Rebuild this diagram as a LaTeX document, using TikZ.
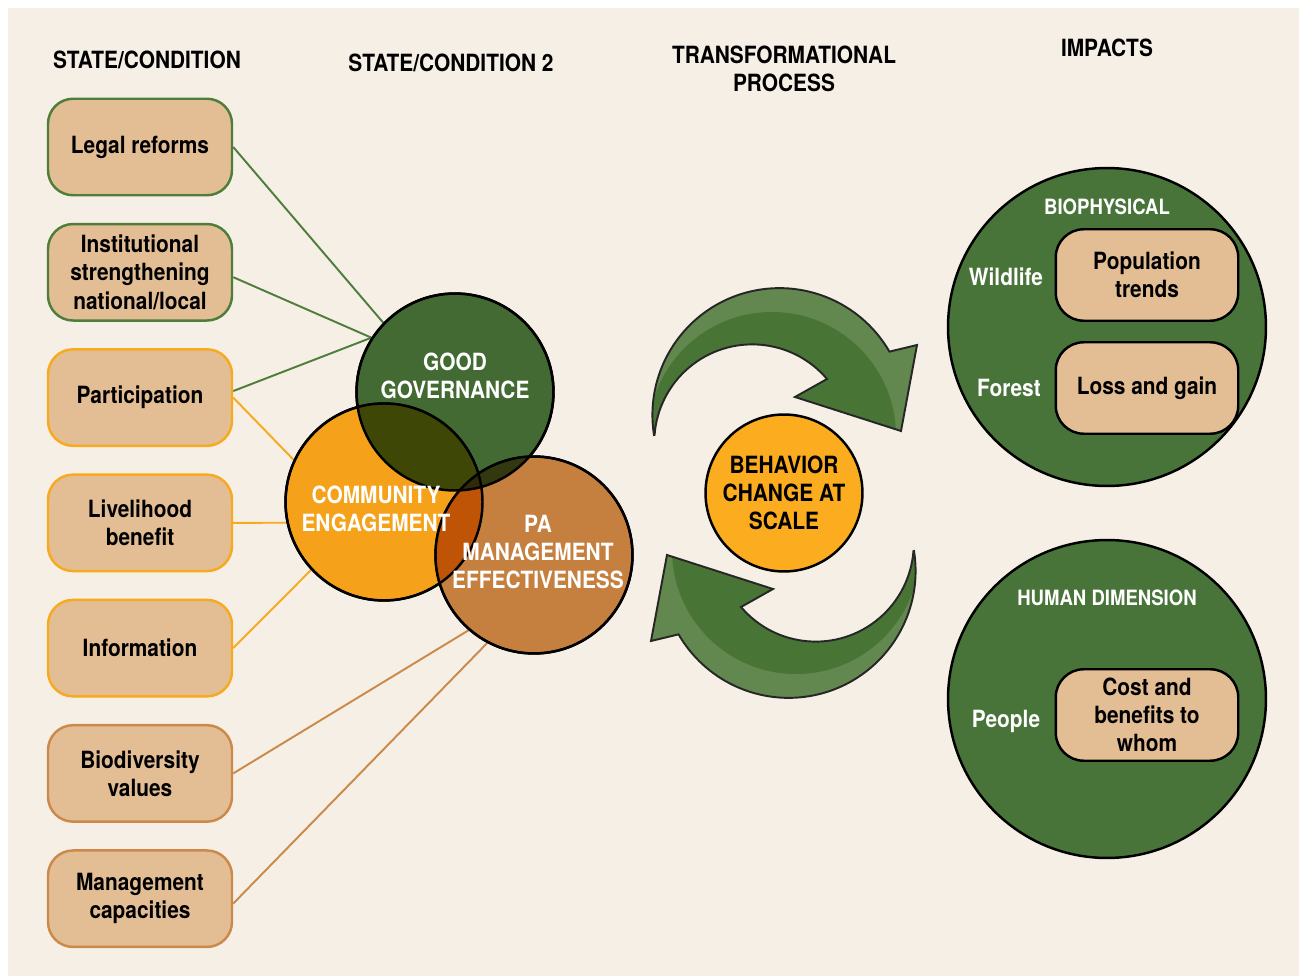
\documentclass[tikz,border=0pt]{standalone}
\usepackage{fontspec}
\setmainfont{TeX Gyre Heros}[FakeStretch=0.88]
\usetikzlibrary{
  arrows.meta,
  calc,
  positioning,
  backgrounds
}
\definecolor{paper}{HTML}{F6EFE5}
\definecolor{tan}{HTML}{E3BD94}
\definecolor{leafline}{HTML}{4F7D3B}
\definecolor{sunline}{HTML}{F7AA1F}
\definecolor{clayline}{HTML}{CB8A4A}
\definecolor{govfill}{HTML}{426A32}
\definecolor{commfill}{HTML}{F5A11A}
\definecolor{pafill}{HTML}{C5803F}
\definecolor{govcomm}{HTML}{3E4706}
\definecolor{govpa}{HTML}{33380F}
\definecolor{commpa}{HTML}{C05406}
\definecolor{allthree}{HTML}{302A06}
\definecolor{hubfill}{HTML}{FBAC1F}
\definecolor{impactfill}{HTML}{48743A}
\definecolor{arrowdark}{HTML}{487536}
\definecolor{arrowlight}{HTML}{62874F}
\tikzset{
  >=stealth,
  line join=round,
  txt/.style={font=\bfseries\fontsize{13.5}{16}\selectfont, align=center, inner sep=0pt},
  head/.style={txt, text=black},
  factor/.style={txt, fill=tan, rounded corners=0.5cm, line width=1.4pt,
    minimum width=3.68cm, minimum height=1.93cm},
  venn/.style={circle, draw=black, line width=1.4pt, minimum size=3.94cm, inner sep=0pt},
  venntext/.style={txt, text=white},
  link/.style={line width=1.1pt},
  impact/.style={circle, draw=black, line width=1.4pt, fill=impactfill, minimum size=6.36cm, inner sep=0pt},
  outcome/.style={txt, draw=black, fill=tan, rounded corners=0.56cm, line width=1.4pt,
    minimum width=3.65cm, minimum height=1.83cm},
  sidetext/.style={txt, text=white},
  cyclearrow/.style={draw=black!85, line width=1.1pt}
}

\begin{document}
\begin{tikzpicture}[x=0.02cm, y=-0.02cm, node distance=0.527cm]
  \useasboundingbox (0,0) rectangle (1299,976);
  \begin{scope}[on background layer]
    \fill[white] (0,0) rectangle (1299,976);
    \fill[paper] (8,8) rectangle (1299,976);
  \end{scope}

  % column headings
  \node[head] (hcond) at (147,60) {STATE/CONDITION};
  \node[head] (hcond2) at (451,63) {STATE/CONDITION 2};
  \node[head] (hproc) at (784,69) {TRANSFORMATIONAL\\PROCESS};
  \node[head] (himp) at (1107,48) {IMPACTS};

  % state/condition boxes
  \node[factor, draw=leafline] (legal) at (140,147) {Legal reforms};
  \node[factor, draw=leafline, below=of legal] (inst) {Institutional\\strengthening\\national/local};
  \node[factor, draw=sunline, below=of inst] (part) {Participation};
  \node[factor, draw=sunline, below=of part] (live) {Livelihood\\benefit};
  \node[factor, draw=sunline, below=of live] (info) {Information};
  \node[factor, draw=clayline, below=of info] (bio) {Biodiversity\\values};
  \node[factor, draw=clayline, below=of bio] (mgmt) {Management\\capacities};

  % three overlapping circles
  \node[venn, fill=govfill] (gov) at (455,392) {};
  \node[venn, fill=commfill] (comm) at (384,502) {};
  \node[venn, fill=pafill] (pa) at (534,555) {};

  \begin{scope}
    \clip (comm.center) circle[radius=98.5];
    \fill[commpa] (pa.center) circle[radius=98.5];
  \end{scope}
  \begin{scope}
    \clip (gov.center) circle[radius=98.5];
    \fill[govcomm] (comm.center) circle[radius=98.5];
    \fill[govpa] (pa.center) circle[radius=98.5];
    \clip (comm.center) circle[radius=98.5];
    \fill[allthree] (pa.center) circle[radius=98.5];
  \end{scope}
  \foreach \c in {gov,comm,pa}
    \draw[line width=1.4pt] (\c.center) circle[radius=98.5];

  \node[venntext] (govtext) at (455,376) {GOOD\\GOVERNANCE};
  \node[venntext] (commtext) at (376,509) {COMMUNITY\\ENGAGEMENT};
  \node[venntext] (patext) at (538,552) {PA\\MANAGEMENT\\EFFECTIVENESS};

  \begin{scope}[on background layer]
    \draw[link, leafline] (legal.east) -- (gov.136);
    \draw[link, leafline] (inst.-3) -- (gov.147);
    \draw[link, leafline] (part.4) -- (gov.147);
    \draw[link, sunline] (part.east) -- (comm.155);
    \draw[link, sunline] (live.east) -- (comm.192);
    \draw[link, sunline] (info.east) -- (comm.223);
    \draw[link, clayline] (bio.east) -- (pa.229);
    \draw[link, clayline] (mgmt.-3) -- (pa.242);
  \end{scope}

  % transformational cycle
  \node[circle, draw=black, line width=1.4pt, fill=hubfill, minimum size=3.14cm,
    txt, text=black] (hub) at (784,493) {BEHAVIOR\\CHANGE AT\\SCALE};

  \foreach \r in {0,180}{
    \begin{scope}[shift={(hub.center)}, rotate=\r]
      \begin{scope}
        \clip (-130,-58) arc[start angle=-189, end angle=-30, radius=127]
          -- (133,-148) -- (117,-62) -- (11,-96) -- (43,-114)
          arc[start angle=-40.3, end angle=-175.6, radius=98] -- cycle;
        \fill[arrowlight] (-160,-230) rectangle (160,-40);
        \fill[arrowdark] (-12,-57) circle[radius=124];
      \end{scope}
      \draw[cyclearrow] (-130,-58) arc[start angle=-189, end angle=-30, radius=127]
        -- (133,-148) -- (117,-62) -- (11,-96) -- (43,-114)
        arc[start angle=-40.3, end angle=-175.6, radius=98] -- cycle;
    \end{scope}
  }

  % impacts
  \node[impact] (biophys) at (1107,327) {};
  \node[impact] (human) at (1107,699) {};

  \node[sidetext, font=\bfseries\fontsize{12}{14}\selectfont] (biotitle) at (1107,207) {BIOPHYSICAL};
  \node[outcome] (pop) at (1147,275) {Population\\trends};
  \node[outcome] (loss) at (1147,388) {Loss and gain};
  \node[sidetext] (wild) at (1006,277) {Wildlife};
  \node[sidetext] (forest) at (1009,388) {Forest};

  \node[sidetext, font=\bfseries\fontsize{12}{14}\selectfont] (humtitle) at (1107,598) {HUMAN DIMENSION};
  \node[outcome] (cost) at (1147,715) {Cost and\\benefits to\\whom};
  \node[sidetext] (people) at (1006,721) {People};
\end{tikzpicture}
\end{document}
